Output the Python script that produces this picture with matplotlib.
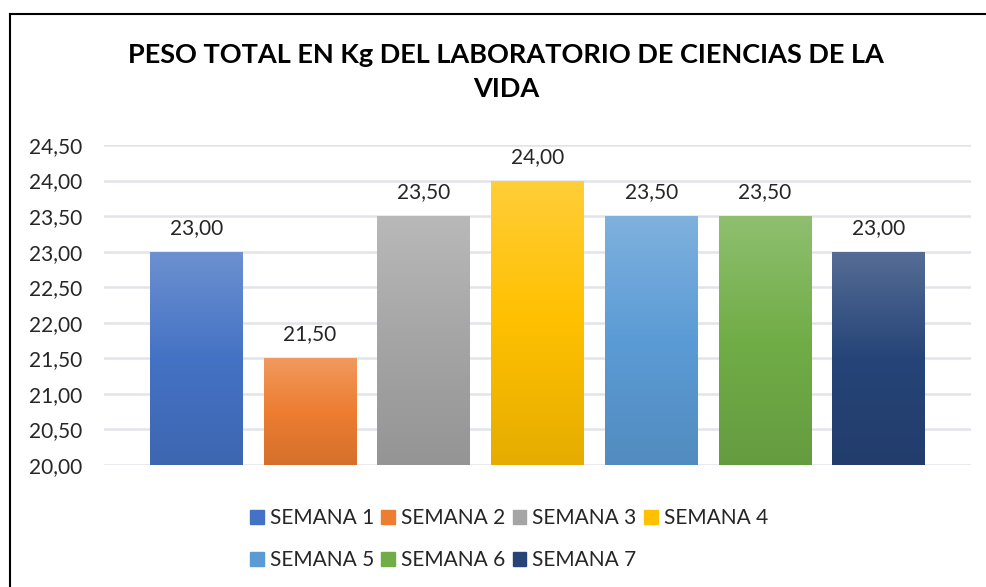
import numpy as np
import matplotlib.pyplot as plt
from matplotlib.colors import LinearSegmentedColormap, to_rgb
from matplotlib.patches import Rectangle
from matplotlib.lines import Line2D

semanas = ["SEMANA 1", "SEMANA 2", "SEMANA 3", "SEMANA 4",
           "SEMANA 5", "SEMANA 6", "SEMANA 7"]
peso = [23.00, 21.50, 23.50, 24.00, 23.50, 23.50, 23.00]
colores = ["#4472C4", "#ED7D31", "#A5A5A5", "#FFC000",
           "#5B9BD5", "#70AD47", "#264478"]
titulo = "PESO TOTAL EN Kg DEL LABORATORIO DE CIENCIAS DE LA\nVIDA"

plt.rcParams['font.family'] = ['Lato', 'DejaVu Sans']


def mezcla(c, other, t):
    c = np.array(to_rgb(c))
    return tuple(c * (1 - t) + np.array(other) * t)


def degradado(c):
    # light at the top, base colour in the middle, darker at the base
    arriba = mezcla(c, (1, 1, 1), 0.22)
    abajo = mezcla(c, (0, 0, 0), 0.10)
    return LinearSegmentedColormap.from_list("g", [abajo, c, arriba])


fig = plt.figure(figsize=(9.86, 5.87), dpi=100)
ax = fig.add_axes([104 / 986, 1 - 465 / 587, (971 - 104) / 986, 320 / 587])

x = np.arange(len(peso))
ancho = 0.816
grad = np.linspace(0, 1, 256).reshape(-1, 1)
for xi, v, c in zip(x, peso, colores):
    bar = ax.bar(xi, v - 20, bottom=20, width=ancho, color=c, zorder=2)[0]
    im = ax.imshow(grad, cmap=degradado(c), origin="lower", aspect="auto",
                   extent=(xi - ancho / 2, xi + ancho / 2, 20, v), zorder=3)
    im.set_clip_path(bar)
    ax.annotate(f"{v:.2f}".replace(".", ","), (xi, v), xytext=(0, 10),
                textcoords="offset points", ha="center", va="bottom",
                fontsize=15, color="#262626")

ax.set_xlim(-0.811, len(peso) - 1 + 0.811)
ax.set_ylim(20, 24.5)
ax.set_yticks(np.arange(20, 24.51, 0.5))
ax.set_yticklabels([f"{t:.2f}".replace(".", ",") for t in np.arange(20, 24.51, 0.5)])
ax.set_xticks([])
ax.tick_params(axis="y", length=0, labelsize=15, pad=16, labelcolor="#262626")
ax.grid(axis="y", color="#E1E4E8", linewidth=1.8, zorder=0)
ax.set_axisbelow(True)
for s in ax.spines.values():
    s.set_visible(False)

fig.text(0.513, 1 - 72 / 587, titulo, ha="center", va="center",
         fontsize=19.5, fontweight="bold", linespacing=1.5, color="#000000")

# legend in row order: 4 columns x 2 rows
handles = [Rectangle((0, 0), 1, 1, color=c) for c in colores]
orden = [0, 4, 1, 5, 2, 6, 3]
fig.legend([handles[i] for i in orden], [semanas[i] for i in orden],
           ncol=4, loc="center", bbox_to_anchor=(509 / 986, 1 - 539 / 587),
           frameon=False, fontsize=15, handlelength=0.65, handleheight=0.65,
           handletextpad=0.3, columnspacing=0.35, labelspacing=1.05,
           labelcolor="#262626")

# chart frame
fig.add_artist(Line2D([10 / 986, 10 / 986], [0, 1 - 14 / 587],
                      transform=fig.transFigure, color="black", linewidth=1.5))
fig.add_artist(Line2D([10 / 986, 1], [1 - 14 / 587, 1 - 14 / 587],
                      transform=fig.transFigure, color="black", linewidth=1.5))

fig.savefig("out.png", dpi=100)
